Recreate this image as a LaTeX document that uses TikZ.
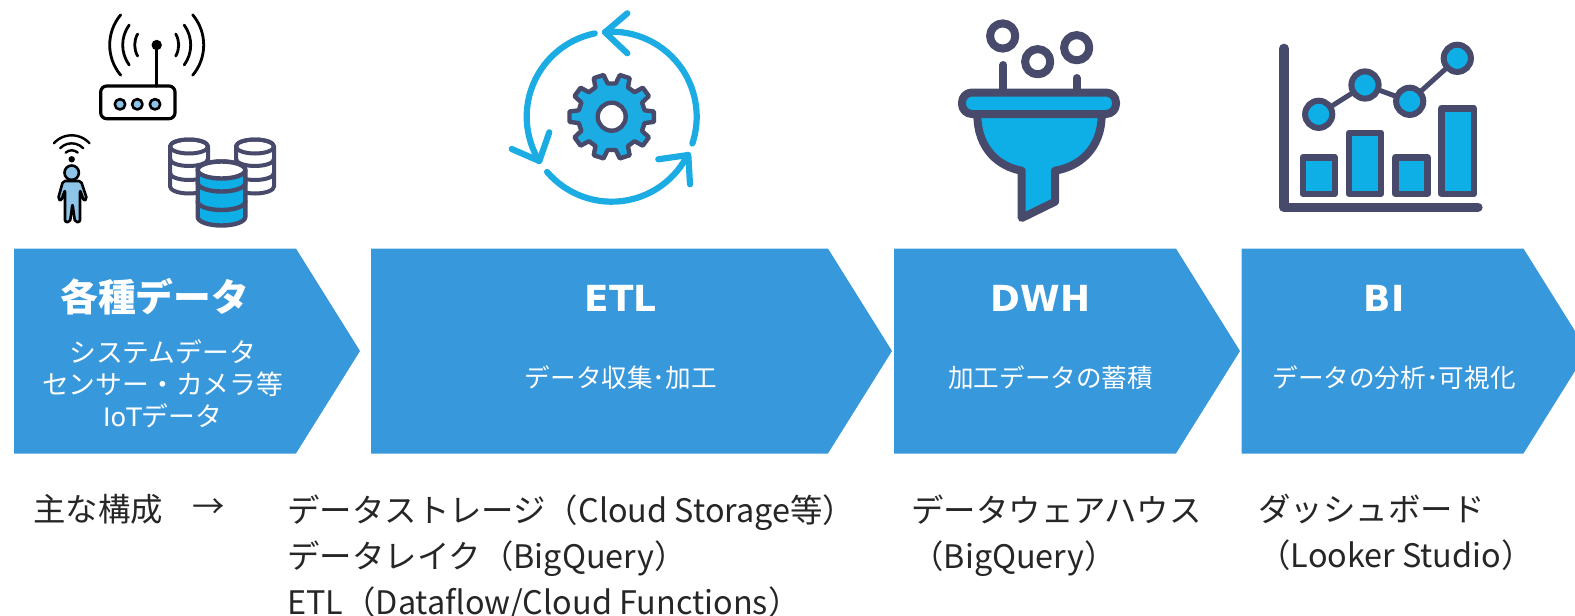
\documentclass[tikz,border=0pt]{standalone}
\usepackage{fontspec}
\setmainfont{Noto Sans CJK JP}
\newfontfamily\latfont[Scale=.95]{DejaVu Sans}
\newcommand{\lat}[1]{{\latfont #1}}
\usetikzlibrary{positioning}
\usetikzlibrary{shapes.symbols}
\definecolor{sigblue}{HTML}{3898DC}
\definecolor{iconblue}{HTML}{0EAEE6}
\definecolor{icondark}{HTML}{474A6B}
\definecolor{iconpale}{HTML}{8DC4E8}
\definecolor{looparc}{HTML}{1AACE3}
\definecolor{listtext}{HTML}{262626}

\begin{document}
\begin{tikzpicture}[x=.5pt,y=.5pt,
	sigbox/.style={signal,signal to=east,signal pointer angle=116,fill=sigblue,inner sep=0pt,outer sep=0pt,minimum height=102.5pt,anchor=west},
	titletext/.style={text=white,font=\bfseries\fontsize{18.9}{22}\selectfont,inner sep=0pt},
	subtext/.style={text=white,align=center,inner sep=0pt,font=\fontsize{12.8}{16}\selectfont},
	listnode/.style={text=listtext,align=left,anchor=west,inner sep=0pt,font=\fontsize{16.2}{23}\selectfont},
	blackline/.style={draw=black,line width=1.6pt,line cap=round,line join=round},
	darkline/.style={draw=icondark,line width=2.2pt,line cap=round,line join=round},
	loopline/.style={draw=looparc,line width=3.1pt,line cap=round,line join=round}]
	\useasboundingbox (0,0) rectangle (1575,-616);
	% signal boxes
	\node[sigbox,minimum width=173pt] (datasig) at (14,-351) {};
	\node[sigbox,minimum width=260.5pt] (etlsig) at (371,-351) {};
	\node[sigbox,minimum width=173pt] (dwhsig) at (894,-351) {};
	\node[sigbox,minimum width=173pt] (bisig) at (1241.5,-351) {};
	\node[titletext] (datatitle) at (154.7,-297) {各種データ};
	\node[subtext,font=\fontsize{13.4}{16}\selectfont] (datasub) at (162.7,-384) {システムデータ\\センサー・カメラ等\\\lat{IoT}データ};
	\node[titletext] (etltitle) at (620.8,-298) {\lat{ETL}};
	\node[subtext] (etlsub) at (620.8,-377.7) {データ収集･加工};
	\node[titletext] (dwhtitle) at (1040.7,-298) {\lat{DWH}};
	\node[subtext] (dwhsub) at (1050.7,-377.7) {加工データの蓄積};
	\node[titletext] (bititle) at (1384,-298) {\lat{BI}};
	\node[subtext] (bisub) at (1394,-377.7) {データの分析･可視化};
	% lists below the boxes
	\node[listnode] (mainlabel) at (33,-509) {主な構成};
	\node[listnode] (mainarrow) at (192,-509) {→};
	\node[listnode,anchor=north west] (etllist) at (287,-494) {データストレージ（Cloud Storage等）\\データレイク（BigQuery）\\ETL（Dataflow/Cloud Functions）};
	\node[listnode,anchor=north west] (dwhlist) at (911,-494) {データウェアハウス\\（BigQuery）};
	\node[listnode,anchor=north west] (bilist) at (1258,-494) {ダッシュボード\\（Looker Studio）};
	% router
	\draw[blackline,fill=white,rounded corners=3pt] (100.7,-86) rectangle (175,-118.7);
	\draw[blackline] (156.7,-45) -- (156.7,-86);
	\fill[black] (156.7,-45) circle (2.6pt);
	\foreach \cx in {120,137.3,155} {
		\draw[blackline,line width=1.3pt,fill=iconpale] (\cx,-104.3) circle (2.6pt);
	}
	\foreach \rr/\aa in {47/40,34/36,22/30} {
		\draw[blackline,line width=1.4pt] (156.7,-45) ++(180-\aa:\rr) arc[start angle=180-\aa,end angle=180+\aa,radius=\rr];
		\draw[blackline,line width=1.4pt] (156.7,-45) ++(\aa:\rr) arc[start angle=\aa,end angle=-\aa,radius=\rr];
	}
	% person
	\foreach \rr/\aa in {24/48,16/46,9/42} {
		\draw[blackline,line width=1.2pt] (71.7,-159.3) ++(90+\aa:\rr) arc[start angle=90+\aa,end angle=90-\aa,radius=\rr];
	}
	\fill[black] (71.7,-159.3) circle (1.6pt);
	\draw[blackline,line width=1.3pt,fill=iconpale,rounded corners=1pt] (63,-181) -- (58,-199) -- (61,-201) -- (65,-190) -- (65,-222) -- (70,-222) -- (72.5,-204) -- (75,-222) -- (80,-222) -- (80,-190) -- (84,-201) -- (87,-199) -- (81,-181) -- cycle;
	\draw[blackline,line width=1.3pt,fill=iconpale] (71.7,-172.7) circle (3.6pt);
	% databases
	\foreach \cx in {189,255} {
		\draw[darkline,line width=2pt,fill=white] (\cx-19,-146.5) -- (\cx-19,-186.5) arc[start angle=180,end angle=360,x radius=19,y radius=7] -- (\cx+19,-146.5) arc[start angle=0,end angle=180,x radius=19,y radius=7];
		\draw[darkline,line width=2pt] (\cx,-146.5) ellipse[x radius=19,y radius=7];
		\draw[darkline,line width=2pt] (\cx-19,-159) arc[start angle=180,end angle=360,x radius=19,y radius=7];
		\draw[darkline,line width=2pt] (\cx-19,-173) arc[start angle=180,end angle=360,x radius=19,y radius=7];
	}
	\draw[darkline,fill=iconblue] (197.7,-170) -- (197.7,-217) arc[start angle=180,end angle=360,x radius=23.8,y radius=8.5] -- (245.3,-170) arc[start angle=0,end angle=180,x radius=23.8,y radius=8.5];
	\draw[darkline,fill=white] (221.5,-170) ellipse[x radius=23.8,y radius=8.5];
	\draw[darkline] (197.7,-183) arc[start angle=180,end angle=360,x radius=23.8,y radius=8.5];
	\draw[darkline] (197.7,-201.5) arc[start angle=180,end angle=360,x radius=23.8,y radius=8.5];
	% loop arrows and gear
	\draw[loopline] (611.7,-116.7) ++(94.5:85) arc[start angle=94.5,end angle=-18.4,radius=85];
	\draw[loopline] (627.3,-13.3) -- (605,-32.3) -- (627.3,-53.3);
	\draw[loopline] (611.7,-116.7) ++(220.5:85) arc[start angle=220.5,end angle=333.4,radius=85];
	\draw[loopline] (658.3,-159.3) -- (688.3,-155) -- (690,-184.3);
	\draw[loopline] (611.7,-116.7) ++(101.5:85) arc[start angle=101.5,end angle=211.5,radius=85];
	\draw[loopline] (511.7,-149) -- (539.3,-161) -- (549.3,-132.3);
	\draw[darkline,fill=looparc,shift={(611.7,-116.7)}] (-7:42.5)
		\foreach \aa in {0,36,...,324} { -- (\aa-7:42.5) -- (\aa+7:42.5) -- (\aa+11:33.5) -- (\aa+25:33.5) -- (\aa+29:42.5) } -- cycle;
	\draw[darkline,fill=white] (611.7,-116.7) circle (7pt);
	% funnel
	\draw[darkline,line width=4pt] (1003.3,-65) -- (1003.3,-90);
	\draw[darkline,line width=4pt] (1076.7,-78) -- (1076.7,-90);
	\draw[darkline,line width=4pt,fill=iconblue] (977.3,-114) .. controls (977.3,-150) and (1000,-167) .. (1021.7,-170.7) -- (1021.7,-218) -- (1055,-201.7) -- (1055,-170.7) .. controls (1078,-167) and (1101.7,-150) .. (1101.7,-114);
	\draw[darkline,line width=4pt,fill=iconblue,rounded corners=5pt] (962,-92.5) rectangle (1116,-114);
	\foreach \cx/\cy in {1002.7/-36,1037.7/-61.7,1076.7/-47.7} {
		\draw[darkline,line width=4pt] (\cx,\cy) circle (6.3pt);
	}
	% chart
	\draw[darkline,line width=4.6pt] (1284,-48.3) -- (1284,-207.3) -- (1478,-207.3);
	\foreach \xa/\xb/\yy in {1302.7/1334.7/157.3,1349/1381/132.7,1395.3/1427.3/157.3,1441.3/1473.7/108.3} {
		\draw[darkline,line width=3.2pt,fill=iconblue] (\xa,-\yy) rectangle (\xb,-193.7);
	}
	\draw[darkline,line width=2.5pt] (1318.7,-114.3) -- (1365,-85) -- (1409.7,-101.3) -- (1457.3,-58.3);
	\foreach \cx/\cy in {1318.7/-114.3,1365/-85,1409.7/-101.3,1457.3/-58.3} {
		\draw[darkline,line width=3pt,fill=iconblue] (\cx,\cy) circle (6.8pt);
	}
\end{tikzpicture}
\end{document}
